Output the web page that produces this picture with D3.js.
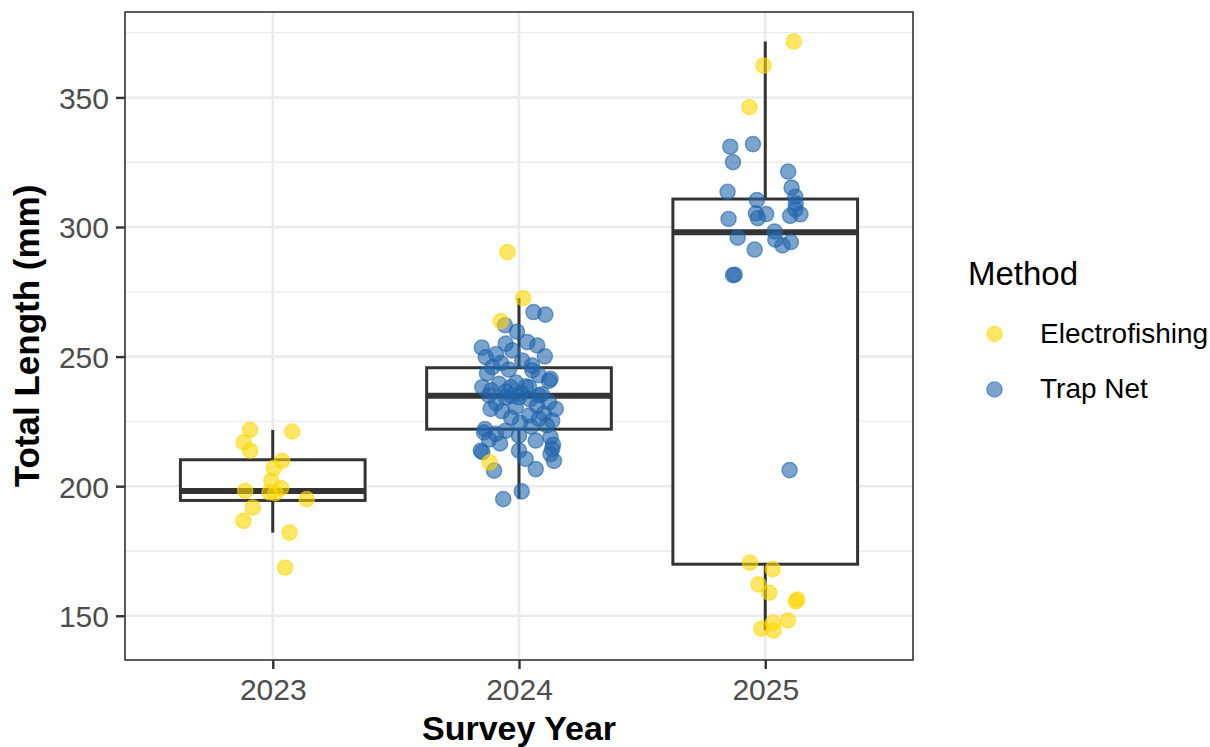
<!DOCTYPE html>
<html>
<head>
<meta charset="utf-8">
<script src="https://cdn.jsdelivr.net/npm/d3@7/dist/d3.min.js"></script>
<style>
  body { margin: 0; background: #fff; }
  svg { display: block; font-family: "Liberation Sans", Arial, Helvetica, sans-serif; }
</style>
</head>
<body>
<div id="viz"></div>
<script>
const years = ["2023", "2024", "2025"];
const methods = ["Electrofishing", "Trap Net"];
const methodColors = ["#FFD700", "#2166AC"];
const yTicks = [150, 200, 250, 300, 350];
const yMinor = [175, 225, 275, 325, 375];

// box summaries, one per year
const boxQ1 = [194.5, 222.0, 169.9];
const boxMedian = [198.1, 234.9, 298.0];
const boxQ3 = [210.2, 245.7, 310.8];
const whiskerLow = [182.1, 195.0, 144.3];
const whiskerHigh = [221.7, 272.6, 371.6];

// points: [total length, jitter offset in category steps]
const electro2023 = [
  [221.7, -0.092], [221.1, 0.079], [216.9, -0.118], [213.7, -0.092], [209.8, 0.038],
  [207.0, 0.004], [202.1, -0.006], [199.3, 0.034], [198.2, -0.112], [197.6, -0.013],
  [197.3, 0.011], [195.0, 0.138], [191.8, -0.081], [186.6, -0.119], [182.1, 0.068],
  [168.6, 0.050]
];
const electro2024 = [
  [290.3, -0.047], [272.6, 0.017], [263.7, -0.074], [209.2, -0.119]
];
const trap2024 = [
  [267.2, 0.059], [266.2, 0.107], [262.1, -0.057], [259.6, -0.008], [255.0, -0.054],
  [255.6, 0.034], [254.3, 0.074], [253.5, -0.151], [252.4, -0.027], [251.0, -0.093],
  [250.1, 0.105], [249.8, -0.135], [248.5, 0.013], [247.5, -0.073], [246.5, 0.053],
  [245.9, -0.108], [245.0, -0.041], [244.7, 0.054], [243.5, -0.130], [242.8, 0.081],
  [241.4, 0.128], [240.6, 0.122], [240.0, -0.012], [239.5, -0.081], [238.5, 0.028],
  [238.2, -0.149], [238.2, -0.034], [238.2, 0.041], [237.0, -0.113], [236.5, -0.053],
  [236.0, 0.008], [235.5, 0.093], [235.0, -0.122], [234.8, -0.032], [234.3, -0.054],
  [234.3, 0.000], [235.0, 0.081], [233.5, 0.045], [232.4, 0.122], [232.0, -0.093],
  [231.0, 0.073], [230.5, -0.013], [229.8, 0.149], [229.8, -0.115], [229.0, -0.069],
  [228.0, 0.101], [227.3, 0.041], [226.5, -0.032], [226.0, 0.081], [225.3, 0.135],
  [224.5, 0.004], [223.5, 0.113], [223.0, 0.049], [222.0, -0.138], [221.4, -0.054],
  [220.8, -0.142], [220.2, -0.094], [219.5, 0.000], [218.9, 0.128], [218.0, -0.122],
  [217.6, 0.068], [216.5, -0.077], [216.0, 0.138], [214.4, 0.135], [213.7, -0.155],
  [213.7, 0.000], [213.1, -0.149], [212.4, 0.128], [210.5, 0.027], [209.8, 0.142],
  [206.6, 0.068], [206.0, -0.101], [198.0, 0.011], [195.0, -0.064]
];
const electro2025 = [
  [371.6, 0.116], [362.3, -0.007], [346.3, -0.064], [170.5, -0.062], [168.0, 0.030],
  [162.1, -0.027], [158.9, 0.016], [156.3, 0.130], [155.6, 0.124], [148.2, 0.092],
  [147.3, 0.031], [145.0, -0.016], [144.3, 0.034]
];
const trap2025 = [
  [332.0, -0.050], [331.0, -0.142], [325.0, -0.131], [321.4, 0.093], [315.2, 0.107],
  [313.6, -0.153], [311.7, 0.122], [310.4, -0.034], [309.1, 0.124], [306.8, 0.122],
  [305.3, -0.038], [305.0, 0.004], [304.9, 0.143], [304.3, 0.101], [303.4, -0.030],
  [303.1, -0.149], [298.3, 0.038], [295.9, -0.112], [295.1, 0.041], [294.2, 0.104],
  [292.9, 0.070], [291.3, -0.043], [281.6, -0.124], [281.4, -0.131], [206.2, 0.099]
];

const points = [
  ...trap2024.map(d => ({ year: "2024", method: 1, v: d[0], j: d[1] })),
  ...trap2025.map(d => ({ year: "2025", method: 1, v: d[0], j: d[1] })),
  ...electro2023.map(d => ({ year: "2023", method: 0, v: d[0], j: d[1] })),
  ...electro2024.map(d => ({ year: "2024", method: 0, v: d[0], j: d[1] })),
  ...electro2025.map(d => ({ year: "2025", method: 0, v: d[0], j: d[1] }))
];

const W = 1210, H = 747;
const panel = { left: 125, right: 913, top: 12, bottom: 660 };

const svg = d3.select("#viz").append("svg")
  .attr("width", W)
  .attr("height", H);

// y range like ggplot: data extent expanded by 5%
const lo = d3.min([...points.map(d => d.v), ...whiskerLow]);
const hi = d3.max([...points.map(d => d.v), ...whiskerHigh]);
const pad = (hi - lo) * 0.05;

const y = d3.scaleLinear()
  .domain([lo - pad, hi + pad])
  .range([panel.bottom, panel.top]);

const x = d3.scalePoint()
  .domain(years)
  .range([panel.left, panel.right])
  .padding(0.6);

const step = x.step();
const boxW = step * 0.75;

// grid
const grid = svg.append("g");
grid.selectAll(".minor")
  .data(yMinor)
  .join("line")
    .attr("x1", panel.left).attr("x2", panel.right)
    .attr("y1", d => y(d)).attr("y2", d => y(d))
    .attr("stroke", "#ebebeb").attr("stroke-width", 1.3);
grid.selectAll(".majorY")
  .data(yTicks)
  .join("line")
    .attr("x1", panel.left).attr("x2", panel.right)
    .attr("y1", d => y(d)).attr("y2", d => y(d))
    .attr("stroke", "#ebebeb").attr("stroke-width", 2.6);
grid.selectAll(".majorX")
  .data(years)
  .join("line")
    .attr("x1", d => x(d)).attr("x2", d => x(d))
    .attr("y1", panel.top).attr("y2", panel.bottom)
    .attr("stroke", "#ebebeb").attr("stroke-width", 2.6);

// boxplots
const boxes = svg.append("g")
  .selectAll("g")
  .data(years)
  .join("g");

boxes.append("line")
  .attr("x1", d => x(d)).attr("x2", d => x(d))
  .attr("y1", (d, i) => y(boxQ3[i])).attr("y2", (d, i) => y(whiskerHigh[i]))
  .attr("stroke", "#333").attr("stroke-width", 3);
boxes.append("line")
  .attr("x1", d => x(d)).attr("x2", d => x(d))
  .attr("y1", (d, i) => y(boxQ1[i])).attr("y2", (d, i) => y(whiskerLow[i]))
  .attr("stroke", "#333").attr("stroke-width", 3);
boxes.append("rect")
  .attr("x", d => x(d) - boxW / 2)
  .attr("width", boxW)
  .attr("y", (d, i) => y(boxQ3[i]))
  .attr("height", (d, i) => y(boxQ1[i]) - y(boxQ3[i]))
  .attr("fill", "#fff")
  .attr("stroke", "#333").attr("stroke-width", 3);
boxes.append("line")
  .attr("x1", d => x(d) - boxW / 2).attr("x2", d => x(d) + boxW / 2)
  .attr("y1", (d, i) => y(boxMedian[i])).attr("y2", (d, i) => y(boxMedian[i]))
  .attr("stroke", "#333").attr("stroke-width", 6);

// jittered points
svg.append("g")
  .selectAll("circle")
  .data(points)
  .join("circle")
    .attr("cx", d => x(d.year) + d.j * step)
    .attr("cy", d => y(d.v))
    .attr("r", 7.6)
    .attr("fill", d => methodColors[d.method])
    .attr("fill-opacity", 0.6)
    .attr("stroke", d => methodColors[d.method])
    .attr("stroke-opacity", 0.6)
    .attr("stroke-width", 1.4);

// panel border
svg.append("rect")
  .attr("x", panel.left).attr("y", panel.top)
  .attr("width", panel.right - panel.left)
  .attr("height", panel.bottom - panel.top)
  .attr("fill", "none")
  .attr("stroke", "#333").attr("stroke-width", 1.6);

// axes
const yAxis = svg.append("g")
  .attr("transform", `translate(${panel.left},0)`)
  .call(d3.axisLeft(y).tickValues(yTicks).tickSize(9).tickPadding(7));
const xAxis = svg.append("g")
  .attr("transform", `translate(0,${panel.bottom})`)
  .call(d3.axisBottom(x).tickSize(9).tickPadding(9));

[yAxis, xAxis].forEach(ax => {
  ax.select(".domain").remove();
  ax.selectAll(".tick line").attr("stroke", "#333").attr("stroke-width", 2.4);
  ax.selectAll(".tick text")
    .attr("fill", "#4d4d4d")
    .style("font-size", "30px")
    .style("font-family", "'Liberation Sans', Arial, sans-serif");
});
yAxis.selectAll(".tick text").attr("dy", "0.36em");
xAxis.selectAll(".tick text").attr("dy", "0.74em");

// axis titles
svg.append("text")
  .attr("x", (panel.left + panel.right) / 2)
  .attr("y", 740)
  .attr("text-anchor", "middle")
  .style("font-size", "34px")
  .style("font-weight", "bold")
  .text("Survey Year");

svg.append("text")
  .attr("transform", `translate(39,${(panel.top + panel.bottom) / 2}) rotate(-90)`)
  .attr("text-anchor", "middle")
  .style("font-size", "35px")
  .style("font-weight", "bold")
  .text("Total Length (mm)");

// legend
const legend = svg.append("g").attr("transform", "translate(968,285)");
legend.append("text")
  .attr("x", 0).attr("y", 0)
  .style("font-size", "33px")
  .text("Method");

const item = legend.selectAll(".item")
  .data(methods)
  .join("g")
    .attr("transform", (d, i) => `translate(0,${49 + i * 55.5})`);
item.append("circle")
  .attr("cx", 26.5).attr("cy", 0).attr("r", 7.6)
  .attr("fill", (d, i) => methodColors[i]).attr("fill-opacity", 0.6)
  .attr("stroke", (d, i) => methodColors[i]).attr("stroke-opacity", 0.6)
  .attr("stroke-width", 1.4);
item.append("text")
  .attr("x", 72).attr("y", 8.5)
  .style("font-size", "28px")
  .text(d => d);
</script>
</body>
</html>
